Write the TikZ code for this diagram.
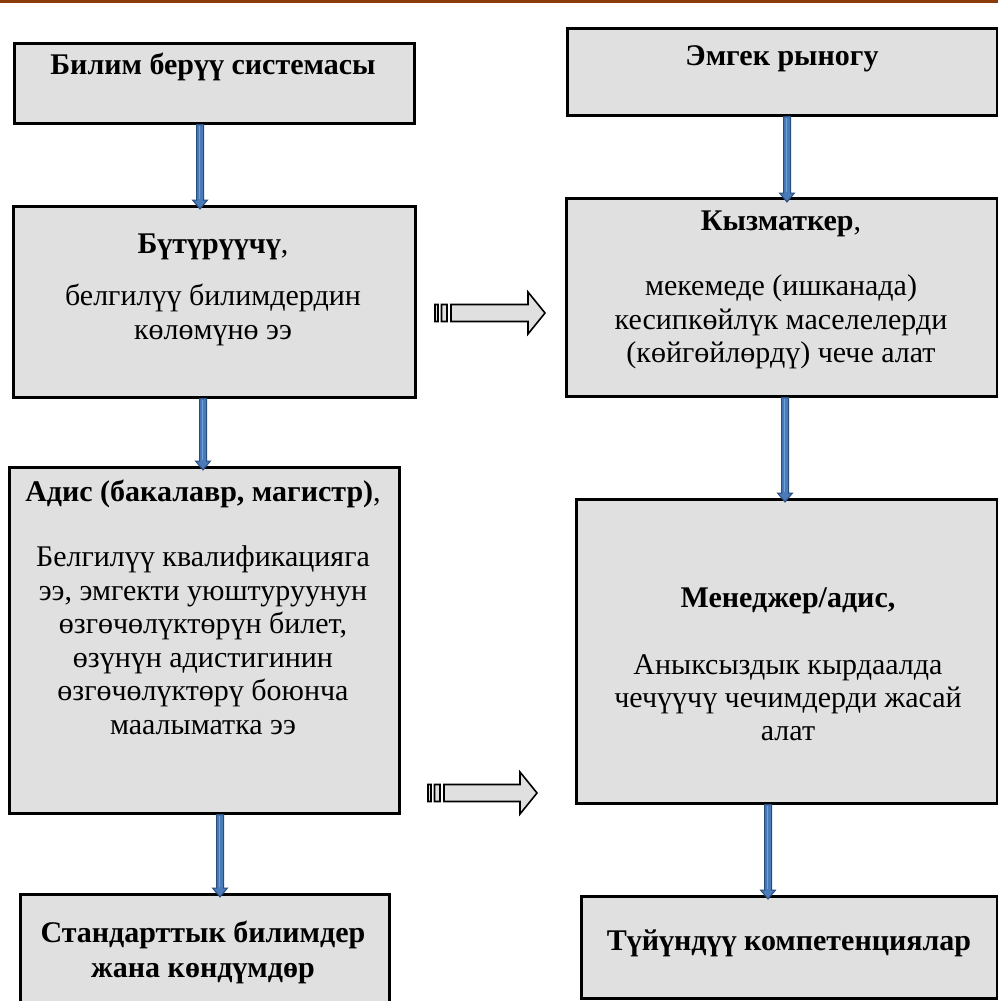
\documentclass[tikz,border=0pt]{standalone}
\usepackage{fontspec}
\setmainfont{Liberation Serif}
\usetikzlibrary{calc}
\definecolor{boxgray}{RGB}{224,224,224}
\definecolor{arrowfill}{RGB}{74,122,184}
\definecolor{arrowlight}{RGB}{110,160,220}
\definecolor{arrowline}{RGB}{40,78,125}
\definecolor{topline}{RGB}{140,60,10}
\newcommand{\bdarrow}[2]{%
  \draw[bluearrow] let \p1=(#1), \p2=(#2) in
    (\x1-3.5pt,\y1) -- (\x1+3.5pt,\y1) -- (\x1+3.5pt,\y2+9pt) -- (\x1+7.5pt,\y2+9pt)
    -- (\x1,\y2) -- (\x1-7.5pt,\y2+9pt) -- (\x1-3.5pt,\y2+9pt) -- cycle;
  \draw[arrowlight, line width=1.6pt] let \p1=(#1), \p2=(#2) in
    (\x1-0.5pt,\y1-1.5pt) -- (\x1-0.5pt,\y2+10pt);}
\newcommand{\stripedarrow}[2]{%
  \draw[blockarrow] let \p1=(#1), \p2=(#2) in
    (\x1,\y1-8.5pt) rectangle (\x1+3pt,\y1+8.5pt)
    (\x1+6.5pt,\y1-8.5pt) rectangle (\x1+12pt,\y1+8.5pt)
    (\x1+16pt,\y1-8.5pt) -- (\x2-17pt,\y1-8.5pt) -- (\x2-17pt,\y1-21pt) -- (\x2,\y1)
    -- (\x2-17pt,\y1+21pt) -- (\x2-17pt,\y1+8.5pt) -- (\x1+16pt,\y1+8.5pt) -- cycle;}
\begin{document}
\begin{tikzpicture}[x=1pt,y=-1pt,
  box/.style={draw=black, line width=2.5pt, fill=boxgray, anchor=north west, inner sep=0pt},
  bluearrow/.style={draw=arrowline, fill=arrowfill, line width=1pt, line join=miter},
  blockarrow/.style={draw=black, fill=boxgray, line width=1.6pt, line join=miter},
  ttl/.style={anchor=base, inner sep=0pt, font=\fontsize{30}{34}\selectfont\bfseries},
  txt/.style={anchor=base, inner sep=0pt, font=\fontsize{30}{34}\selectfont}]
\useasboundingbox (0,0) rectangle (998,1001);
\fill[white] (0,0) rectangle (998,1001);
\fill[topline] (0,0) rectangle (998,2.5);
% boxes
\node[box, minimum width=400pt, minimum height=80pt] (b1) at (13,42) {};
\node[box, minimum width=430pt, minimum height=87pt] (b2) at (566,27) {};
\node[box, minimum width=402pt, minimum height=191pt] (b3) at (12,205) {};
\node[box, minimum width=431pt, minimum height=198pt] (b4) at (565,197) {};
\node[box, minimum width=390pt, minimum height=346pt] (b5) at (8,466) {};
\node[box, minimum width=421pt, minimum height=304pt] (b6) at (575,498) {};
\node[box, minimum width=369pt, minimum height=125pt] (b7) at (19,893) {};
\node[box, minimum width=416pt, minimum height=102pt] (b8) at (580,895) {};
% texts
\node[ttl] (t1) at (213,74) {Билим берүү системасы};
\node[ttl] (t2) at (782,65) {Эмгек рыногу};
\node[ttl] (t3) at (213,253) {Бүтүрүүчү\textmd{,}};
\node[txt] (t3a) at (213,305) {белгилүү билимдердин};
\node[txt] (t3b) at (213,339) {көлөмүнө ээ};
\node[ttl] (t4) at (781,230) {Кызматкер\textmd{,}};
\node[txt] (t4a) at (781,295) {мекемеде (ишканада)};
\node[txt] (t4b) at (781,329) {кесипкөйлүк маселелерди};
\node[txt] (t4c) at (781,362) {(көйгөйлөрдү) чече алат};
\node[ttl] (t5) at (203,501) {Адис (бакалавр, магистр)\textmd{,}};
\node[txt] (t5a) at (203,566) {Белгилүү квалификацияга};
\node[txt] (t5b) at (203,600) {ээ, эмгекти уюштуруунун};
\node[txt] (t5c) at (203,633) {өзгөчөлүктөрүн билет,};
\node[txt] (t5d) at (203,667) {өзүнүн адистигинин};
\node[txt] (t5e) at (203,700) {өзгөчөлүктөрү боюнча};
\node[txt] (t5f) at (203,734) {маалыматка ээ};
\node[ttl] (t6) at (788,607) {Менеджер/адис,};
\node[txt] (t6a) at (788,674) {Аныксыздык кырдаалда};
\node[txt] (t6b) at (788,707) {чечүүчү чечимдерди жасай};
\node[txt] (t6c) at (788,740) {алат};
\node[ttl] (t7a) at (203,942) {Стандарттык билимдер};
\node[ttl] (t7b) at (203,977) {жана көндүмдөр};
\node[ttl] (t8) at (789,950) {Түйүндүү компетенциялар};
% arrow columns
\coordinate (x1) at (200,0);
\coordinate (x2) at (787,0);
\coordinate (x3) at (203,0);
\coordinate (x4) at (785,0);
\coordinate (x5) at (220,0);
\coordinate (x6) at (768,0);
\bdarrow{b1.south -| x1}{$(b3.north -| x1)+(0,-4pt)$}
\bdarrow{b2.south -| x2}{$(b4.north -| x2)+(0,-5pt)$}
\bdarrow{b3.south -| x3}{$(b5.north -| x3)+(0,-4pt)$}
\bdarrow{b4.south -| x4}{$(b6.north -| x4)+(0,-4pt)$}
\bdarrow{b5.south -| x5}{$(b7.north -| x5)+(0,-4pt)$}
\bdarrow{b6.south -| x6}{$(b8.north -| x6)+(0,-4pt)$}
% striped arrows
\coordinate (s1) at (435,313);
\coordinate (e1) at (545,313);
\coordinate (s2) at (428,793);
\coordinate (e2) at (537,793);
\stripedarrow{s1}{e1}
\stripedarrow{s2}{e2}
\end{tikzpicture}
\end{document}
